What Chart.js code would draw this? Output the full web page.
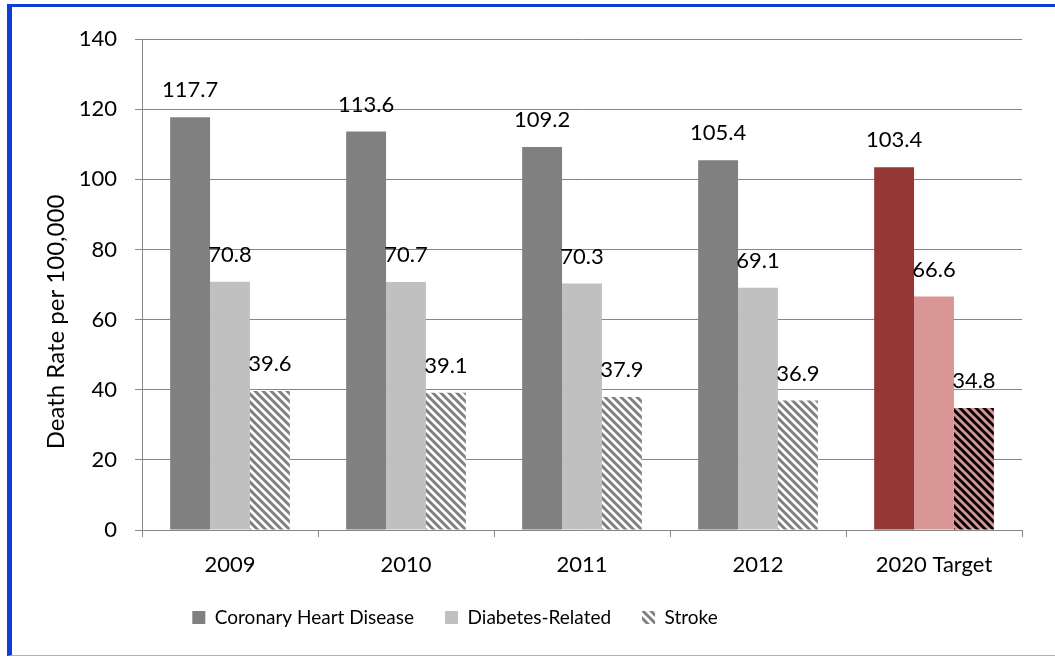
<!DOCTYPE html>
<html>
<head>
<meta charset="utf-8">
<script src="https://cdn.jsdelivr.net/npm/chart.js@4.4.0/dist/chart.umd.min.js"></script>
<style>
    html, body { margin: 0; padding: 0; background: #fff; }
    #cadre {
        position: absolute; left: 7px; top: 4px; width: 1048px; height: 652px;
        box-sizing: border-box;
        border-left: 5px solid #0f3fd2;
        border-top: 3px solid #0f3fd2;
        border-bottom: 1px solid #95b3f5;
    }
    #deathChart { position: absolute; left: 0; top: 0; }
</style>
</head>
<body>
<div id="cadre"></div>
<canvas id="deathChart" width="1055" height="657"></canvas>
<script>
        // Données du graphique
        const annees = ['2009', '2010', '2011', '2012', '2020 Target'];
        const coronaire = [117.7, 113.6, 109.2, 105.4, 103.4];
        const diabete = [70.8, 70.7, 70.3, 69.1, 66.6];
        const avc = [39.6, 39.1, 37.9, 36.9, 34.8];
        const ticksY = [0, 20, 40, 60, 80, 100, 120, 140];

        const police = 'Lato, "Open Sans", sans-serif';
        const grille = '#868686';

        // Motif hachuré pour la série Stroke
        function hachures(fond, trait) {
            const c = document.createElement('canvas');
            c.width = 8;
            c.height = 8;
            const g = c.getContext('2d');
            g.fillStyle = fond;
            g.fillRect(0, 0, 8, 8);
            g.strokeStyle = trait;
            g.lineWidth = 3;
            g.beginPath();
            [-8, 0, 8].forEach(k => {
                g.moveTo(k - 1, -1);
                g.lineTo(k + 9, 9);
            });
            g.stroke();
            return g.createPattern(c, 'repeat');
        }
        const hachuresGris = hachures('#ffffff', '#808080');
        const hachuresRose = hachures('#d99694', '#000000');

        // la dernière catégorie (objectif 2020) est en couleur
        const estCible = ctx => ctx.dataIndex === annees.length - 1;

        // Valeurs au-dessus des barres + titre de l'axe Y
        const etiquettes = {
            id: 'etiquettes',
            afterLayout(chart) {
                // décale la légende vers la gauche
                chart.legend.left -= 56;
                chart.legend.right -= 56;
            },
            afterDatasetsDraw(chart) {
                const ctx = chart.ctx;
                ctx.save();
                ctx.font = '22px ' + police;
                ctx.fillStyle = '#000';
                ctx.textAlign = 'center';
                ctx.textBaseline = 'middle';
                chart.data.datasets.forEach((ds, i) => {
                    chart.getDatasetMeta(i).data.forEach((bar, j) => {
                        ctx.fillText(ds.data[j].toFixed(1), bar.x, bar.y - 27);
                    });
                });
                ctx.font = '24px ' + police;
                ctx.translate(56, 322);
                ctx.rotate(-Math.PI / 2);
                ctx.fillText('Death Rate per 100,000', 0, 0);
                ctx.restore();
            }
        };

        const deathCtx = document.getElementById('deathChart').getContext('2d');
        const deathChart = new Chart(deathCtx, {
            type: 'bar',
            data: {
                labels: annees,
                datasets: [
                    {
                        label: 'Coronary Heart Disease',
                        data: coronaire,
                        backgroundColor: ctx => estCible(ctx) ? '#953735' : '#808080'
                    },
                    {
                        label: 'Diabetes-Related',
                        data: diabete,
                        backgroundColor: ctx => estCible(ctx) ? '#d99694' : '#c0c0c0'
                    },
                    {
                        label: 'Stroke',
                        data: avc,
                        backgroundColor: ctx => estCible(ctx) ? hachuresRose : hachuresGris
                    }
                ]
            },
            options: {
                responsive: false,
                animation: false,
                categoryPercentage: 0.68,
                barPercentage: 1.0,
                layout: {
                    padding: { left: 0, right: 33, top: 39, bottom: 20 }
                },
                plugins: {
                    tooltip: { enabled: false },
                    legend: {
                        position: 'bottom',
                        labels: {
                            boxWidth: 13,
                            boxHeight: 13,
                            padding: 31,
                            color: '#000',
                            font: { family: police, size: 19 }
                        }
                    }
                },
                scales: {
                    x: {
                        afterFit: scale => { scale.height = 47; },
                        grid: {
                            offset: true,
                            drawOnChartArea: false,
                            tickLength: 7,
                            color: grille
                        },
                        border: { color: grille },
                        ticks: {
                            padding: 15,
                            color: '#000',
                            font: { family: police, size: 22 }
                        }
                    },
                    y: {
                        min: ticksY[0],
                        max: ticksY[ticksY.length - 1],
                        afterFit: scale => { scale.width = 142; },
                        grid: { color: grille, tickLength: 7 },
                        border: { color: grille },
                        ticks: {
                            stepSize: ticksY[1] - ticksY[0],
                            padding: 18,
                            color: '#000',
                            font: { family: police, size: 22 }
                        }
                    }
                }
            },
            plugins: [etiquettes]
        });
</script>
</body>
</html>
